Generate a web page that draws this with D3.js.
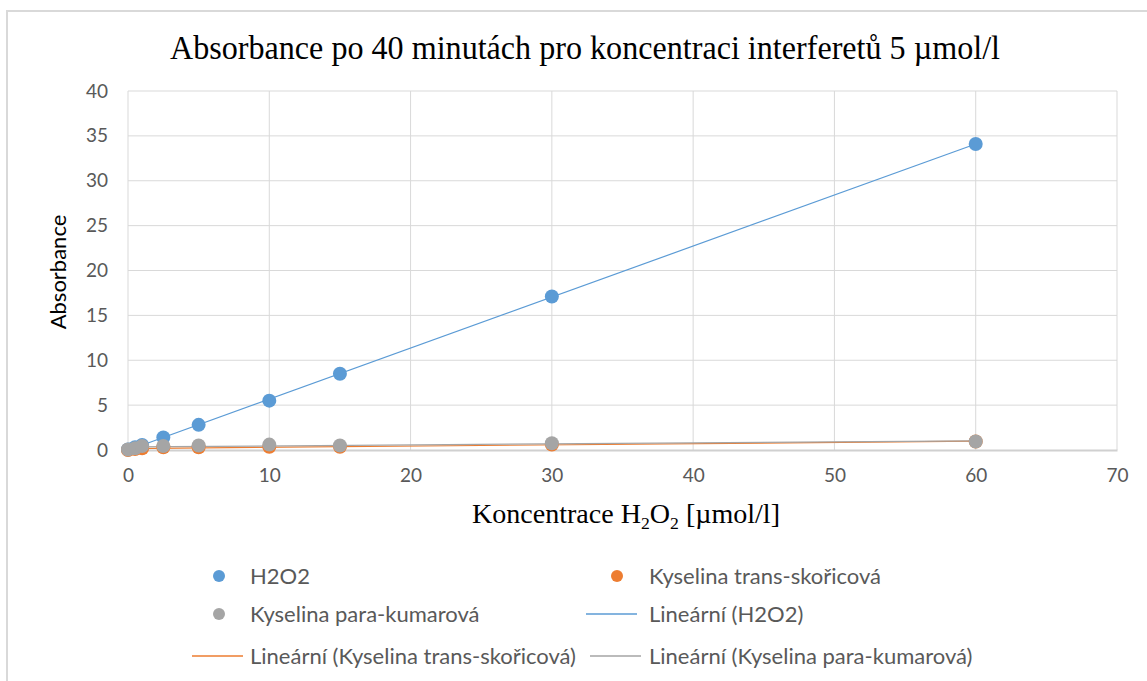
<!DOCTYPE html>
<html lang="cs">
  <head>
    <meta charset="UTF-8" />
    <title>Absorbance po 40 minutách</title>
    <script src="https://d3js.org/d3.v7.min.js"></script>
    <style>
      body {
        margin: 0;
        background: #fff;
      }
      .tick text {
        font-family: Lato, "Open Sans", sans-serif;
        fill: #595959;
      }
    </style>
  </head>
  <body>
    <div id="chart"></div>
    <script>
      // data
      const concentrations = [0, 0.5, 1, 2.5, 5, 10, 15, 30, 60];
      const h2o2 = [0.05, 0.3, 0.55, 1.4, 2.8, 5.5, 8.5, 17.1, 34.1];
      const skoricova = [0.0, 0.1, 0.2, 0.3, 0.3, 0.35, 0.35, 0.6, 0.95];
      const kumarova = [0.05, 0.2, 0.45, 0.45, 0.5, 0.6, 0.5, 0.75, 0.95];
      const xTicks = [0, 10, 20, 30, 40, 50, 60, 70];
      const yTicks = [0, 5, 10, 15, 20, 25, 30, 35, 40];

      const series = [
        { name: "H2O2", values: h2o2, color: "#5b9bd5" },
        { name: "Kyselina trans-skořicová", values: skoricova, color: "#ed7d31" },
        { name: "Kyselina para-kumarová", values: kumarova, color: "#a5a5a5" },
      ];

      const width = 1147;
      const height = 681;
      const margin = { top: 91, right: 30, bottom: 231, left: 128 };
      const innerW = width - margin.left - margin.right;
      const innerH = height - margin.top - margin.bottom;

      const svg = d3
        .select("#chart")
        .append("svg")
        .attr("width", width)
        .attr("height", height);

      // squeeze a text to the width it has in the source picture
      function fitWidth(sel, w) {
        sel.attr("textLength", w).attr("lengthAdjust", "spacingAndGlyphs");
      }

      // outer frame (only top/left visible in the crop)
      svg
        .append("rect")
        .attr("x", 7)
        .attr("y", 11)
        .attr("width", width + 20)
        .attr("height", height + 20)
        .attr("fill", "none")
        .attr("stroke", "#d9d9d9")
        .attr("stroke-width", 2);

      const title = svg
        .append("text")
        .attr("x", 585)
        .attr("y", 59)
        .attr("text-anchor", "middle")
        .attr("font-family", "'Liberation Serif', 'Times New Roman', serif")
        .attr("font-size", 34)
        .attr("fill", "#000")
        .text("Absorbance po 40 minutách pro koncentraci interferetů 5 µmol/l");
      fitWidth(title, 830);

      const x = d3.scaleLinear().domain([0, 70]).range([0, innerW]);
      const y = d3.scaleLinear().domain([0, 40]).range([innerH, 0]);

      const g = svg
        .append("g")
        .attr("transform", `translate(${margin.left},${margin.top})`);

      // gridlines
      g.append("g")
        .selectAll("line")
        .data(yTicks.slice(1))
        .enter()
        .append("line")
        .attr("x1", 0)
        .attr("x2", innerW)
        .attr("y1", (d) => y(d))
        .attr("y2", (d) => y(d))
        .attr("stroke", "#d9d9d9")
        .attr("stroke-width", 1);
      g.append("g")
        .selectAll("line")
        .data(xTicks)
        .enter()
        .append("line")
        .attr("x1", (d) => x(d))
        .attr("x2", (d) => x(d))
        .attr("y1", 0)
        .attr("y2", innerH)
        .attr("stroke", "#d9d9d9")
        .attr("stroke-width", 1);

      // axes
      const xAxis = g
        .append("g")
        .attr("transform", `translate(0,${innerH})`)
        .call(d3.axisBottom(x).tickValues(xTicks).tickSize(0).tickPadding(19));
      xAxis.select(".domain").attr("stroke", "#d0d0d0").attr("stroke-width", 2);
      xAxis.selectAll("text").attr("font-size", 19);

      const yAxis = g
        .append("g")
        .call(d3.axisLeft(y).tickValues(yTicks).tickSize(0).tickPadding(20));
      yAxis.select(".domain").remove();
      yAxis.selectAll("text").attr("font-size", 19);

      // axis titles
      svg
        .append("text")
        .attr("transform", "translate(66,272) rotate(-90)")
        .attr("text-anchor", "middle")
        .attr("font-family", "Lato, 'Open Sans', sans-serif")
        .attr("font-size", 22)
        .attr("fill", "#000")
        .text("Absorbance");

      const xt = svg
        .append("text")
        .attr("x", 626)
        .attr("y", 523)
        .attr("text-anchor", "middle")
        .attr("font-family", "'Liberation Serif', 'Times New Roman', serif")
        .attr("font-size", 27)
        .attr("fill", "#000");
      xt.append("tspan").text("Koncentrace H");
      xt.append("tspan").attr("font-size", 17).attr("dy", 6).text("2");
      xt.append("tspan").attr("dy", -6).text("O");
      xt.append("tspan").attr("font-size", 17).attr("dy", 6).text("2");
      xt.append("tspan").attr("dy", -6).text(" [µmol/l]");
      fitWidth(xt, 308);

      // linear trendlines (least squares over the data range)
      function fit(xs, ys) {
        const mx = d3.mean(xs);
        const my = d3.mean(ys);
        const sxy = d3.sum(xs, (v, i) => (v - mx) * (ys[i] - my));
        const sxx = d3.sum(xs, (v) => (v - mx) * (v - mx));
        const b = sxy / sxx;
        return { a: my - b * mx, b: b };
      }
      const xExtent = d3.extent(concentrations);
      series.forEach((s) => {
        const f = fit(concentrations, s.values);
        g.append("line")
          .attr("x1", x(xExtent[0]))
          .attr("y1", y(f.a + f.b * xExtent[0]))
          .attr("x2", x(xExtent[1]))
          .attr("y2", y(f.a + f.b * xExtent[1]))
          .attr("stroke", s.color)
          .attr("stroke-width", 1.2);
      });

      // markers
      series.forEach((s) => {
        g.append("g")
          .selectAll("circle")
          .data(s.values)
          .enter()
          .append("circle")
          .attr("cx", (d, i) => x(concentrations[i]))
          .attr("cy", (d) => y(d))
          .attr("r", 7)
          .attr("fill", s.color);
      });

      // legend
      const legendItems = [
        { label: "H2O2", color: "#5b9bd5", type: "dot", x: 219, y: 576 },
        { label: "Kyselina trans-skořicová", color: "#ed7d31", type: "dot", x: 617, y: 576 },
        { label: "Kyselina para-kumarová", color: "#a5a5a5", type: "dot", x: 219, y: 614 },
        { label: "Lineární (H2O2)", color: "#5b9bd5", type: "line", x: 612, y: 614 },
        { label: "Lineární (Kyselina trans-skořicová)", color: "#ed7d31", type: "line", x: 218, y: 656 },
        { label: "Lineární (Kyselina para-kumarová)", color: "#a5a5a5", type: "line", x: 616, y: 656 },
      ];
      const legend = svg.append("g");
      legendItems.forEach((d) => {
        if (d.type === "dot") {
          legend
            .append("circle")
            .attr("cx", d.x)
            .attr("cy", d.y)
            .attr("r", 6)
            .attr("fill", d.color);
        } else {
          legend
            .append("line")
            .attr("x1", d.x - 26)
            .attr("x2", d.x + 25)
            .attr("y1", d.y)
            .attr("y2", d.y)
            .attr("stroke", d.color)
            .attr("stroke-width", 1.5);
        }
        legend
          .append("text")
          .attr("x", d.x < 400 ? 250 : 649)
          .attr("y", d.y + 8)
          .attr("font-family", "Lato, 'Open Sans', sans-serif")
          .attr("font-size", 22)
          .attr("fill", "#595959")
          .text(d.label);
      });
    </script>
  </body>
</html>
